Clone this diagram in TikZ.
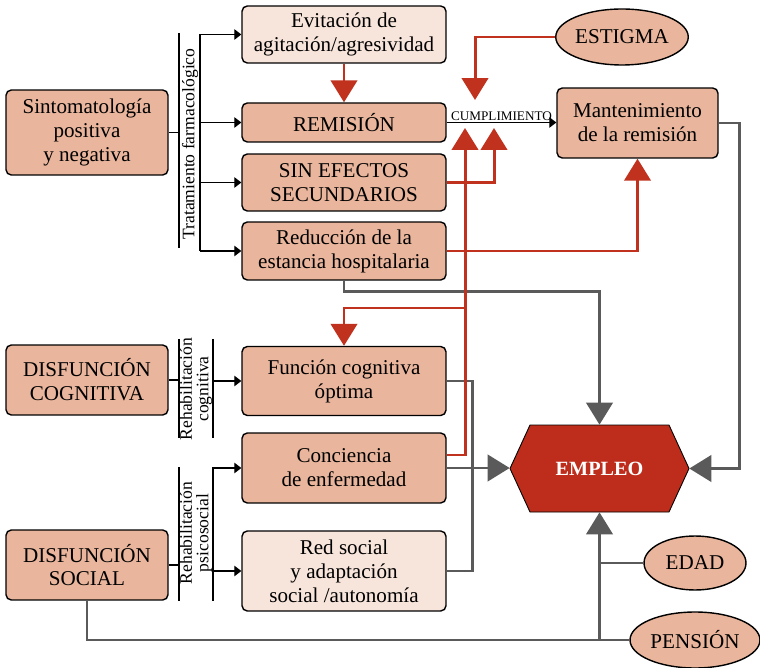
\documentclass[tikz,border=0pt]{standalone}
\usepackage{fontspec}
\setmainfont{Liberation Serif}
\usetikzlibrary{arrows.meta,shapes.geometric,calc}

\definecolor{salmon}{HTML}{E9B59C}
\definecolor{salmonclaro}{HTML}{F7E4DA}
\definecolor{rojo}{HTML}{C0311E}
\definecolor{rojoempleo}{HTML}{BE2D1B}
\definecolor{gris}{HTML}{5A5A5A}

\begin{document}
\begin{tikzpicture}[x=0.02cm, y=-0.02cm,
    caja/.style={draw=black, line width=0.8pt, rounded corners=3pt, fill=salmon, align=center, inner sep=0pt, font=\fontsize{12}{13.6}\selectfont},
    cajaclara/.style={caja, fill=salmonclaro},
    ancha/.style={minimum width=4.08cm},
    ovalo/.style={ellipse, draw=black, line width=0.8pt, fill=salmon, inner sep=0pt, font=\fontsize{12}{13.6}\selectfont},
    etiq/.style={rotate=90, align=center, inner sep=0pt, font=\fontsize{10}{9.4}\selectfont},
    fina/.style={line width=0.6pt},
    flecha/.style={fina, -{Triangle[length=4pt,width=6pt]}},
    roja/.style={draw=rojo, line width=1.7pt, -{Triangle[length=12.5pt,width=15pt]}},
    gruesa/.style={draw=gris, line width=1.6pt},
    grisf/.style={gruesa, -{Triangle[length=12.5pt,width=15pt]}}
]
    \useasboundingbox (0,0) rectangle (760,668);

    % Cajas de la izquierda
    \node[caja, minimum width=3.24cm, minimum height=1.7cm] (sinto) at (87,132.5) {Sintomatología\\positiva\\y negativa};
    \node[caja, minimum width=3.24cm, minimum height=1.4cm] (disfc) at (87,380) {DISFUNCIÓN\\COGNITIVA};
    \node[caja, minimum width=3.24cm, minimum height=1.4cm] (disfs) at (87,565) {DISFUNCIÓN\\SOCIAL};

    % Cajas centrales
    \node[cajaclara, ancha, minimum height=1.14cm] (evit) at (344,34.5) {Evitación de\\agitación/agresividad};
    \node[caja, ancha, minimum height=0.78cm] (remis) at (344,122.5) {REMISIÓN};
    \node[caja, ancha, minimum height=1.14cm] (sinef) at (344,182.5) {SIN EFECTOS\\SECUNDARIOS};
    \node[caja, ancha, minimum height=1.16cm] (reduc) at (344,251) {Reducción de la\\estancia hospitalaria};
    \node[caja, ancha, minimum height=1.38cm] (func) at (344,381) {Función cognitiva\\óptima};
    \node[caja, ancha, minimum height=1.4cm] (conc) at (344,468) {Conciencia\\de enfermedad};
    \node[cajaclara, ancha, minimum height=1.6cm] (red) at (344,571) {Red social\\y adaptación\\social /autonomía};

    % Derecha
    \node[caja, minimum width=3.22cm, minimum height=1.4cm] (mant) at (637.5,123) {Mantenimiento\\de la remisión};
    \node[ovalo, minimum width=2.6cm, minimum height=1.12cm] (estig) at (622,37) {ESTIGMA};
    \node[ovalo, minimum width=2.04cm, minimum height=1.08cm] (edad) at (695,563) {EDAD};
    \node[ovalo, minimum width=2.6cm, minimum height=1.12cm] (pension) at (695,640) {PENSIÓN};

    % EMPLEO (hexagono)
    \filldraw[fill=rojoempleo, draw=black, line width=0.5pt] (510,468.5) -- (530,425) -- (669,425) -- (689,468.5) -- (669,512) -- (530,512) -- cycle;
    \node[minimum width=3.58cm, minimum height=1.74cm, inner sep=0pt, text=white, font=\fontsize{11.5}{13}\selectfont\bfseries] (empleo) at (599.5,468.5) {EMPLEO};

    % Etiquetas verticales
    \node[etiq] (lbltrat) at (190,144) {Tratamiento farmacológico};
    \node[etiq] (lblcog) at (196,389) {Rehabilitación\\cognitiva};
    \node[etiq] (lblpsi) at (196,533) {Rehabilitación\\psicosocial};

    % Tratamiento farmacologico
    \coordinate (t1) at (179,33);
    \coordinate (t2) at (179,248);
    \coordinate (r1) at (200,34.5);
    \coordinate (r2) at (200,251);
    \draw[fina] (t1) -- (t2);
    \draw[fina] (r1) -- (r2);
    \draw[fina] (sinto.east) -- (sinto.east -| t1);
    \draw[flecha] (evit.west -| r1) -- (evit.west);
    \draw[flecha] (remis.west -| r1) -- (remis.west);
    \draw[flecha] (sinef.west -| r1) -- (sinef.west);
    \draw[flecha] (reduc.west -| r1) -- (reduc.west);

    % Rehabilitacion cognitiva
    \coordinate (c1) at (179,339);
    \coordinate (c2) at (179,438);
    \coordinate (c3) at (213,339);
    \coordinate (c4) at (213,438);
    \draw[fina] (c1) -- (c2);
    \draw[fina] (c3) -- (c4);
    \draw[fina] (disfc.east) -- (disfc.east -| c1);
    \draw[flecha] (func.west -| c3) -- (func.west);

    % Rehabilitacion psicosocial
    \coordinate (p1) at (179,467);
    \coordinate (p2) at (179,601);
    \coordinate (p3) at (213,467);
    \coordinate (p4) at (213,601);
    \draw[fina] (p1) -- (p2);
    \draw[fina] (p3) -- (p4);
    \draw[fina] (disfs.east) -- (disfs.east -| p1);
    \draw[flecha] (conc.west -| p3) -- (conc.west);
    \draw[flecha] (red.west -| p3) -- (red.west);

    % Cumplimiento
    \draw[flecha] (remis.east) -- node[above, inner sep=1pt, font=\fontsize{7.5}{8}\selectfont] (lblcump) {CUMPLIMIENTO} (remis.east -| mant.west);

    % Flechas grises
    \draw[grisf] (reduc.south) -- ++(0,11) -| (empleo.north);
    \draw[grisf] (mant.east) -- ++(21,0) |- (empleo.east);
    \draw[gruesa] (func.east) -- ++(26,0) |- (red.east);
    \draw[grisf] (conc.east) -- (conc.east -| empleo.west);
    \draw[gruesa] (disfs.south) |- (pension.west);
    \draw[grisf] (empleo.south |- pension.west) -- (empleo.south);
    \draw[gruesa] (edad.west) -- (edad.west -| empleo.south);

    % Flechas rojas
    \coordinate (pA) at (475,100);
    \coordinate (pB) at (465,128);
    \coordinate (pC) at (494,128);
    \coordinate (rama) at (465,308);
    \draw[roja] (evit.south) -- (remis.north);
    \draw[roja] (estig.west) -| (pA);
    \draw[roja] (sinef.east) -| (pC);
    \draw[roja] ($(conc.east)+(0,-13)$) -| (pB);
    \draw[roja] (rama) -| (func.north);
    \draw[roja] (reduc.east) -| (mant.south);

\end{tikzpicture}
\end{document}
